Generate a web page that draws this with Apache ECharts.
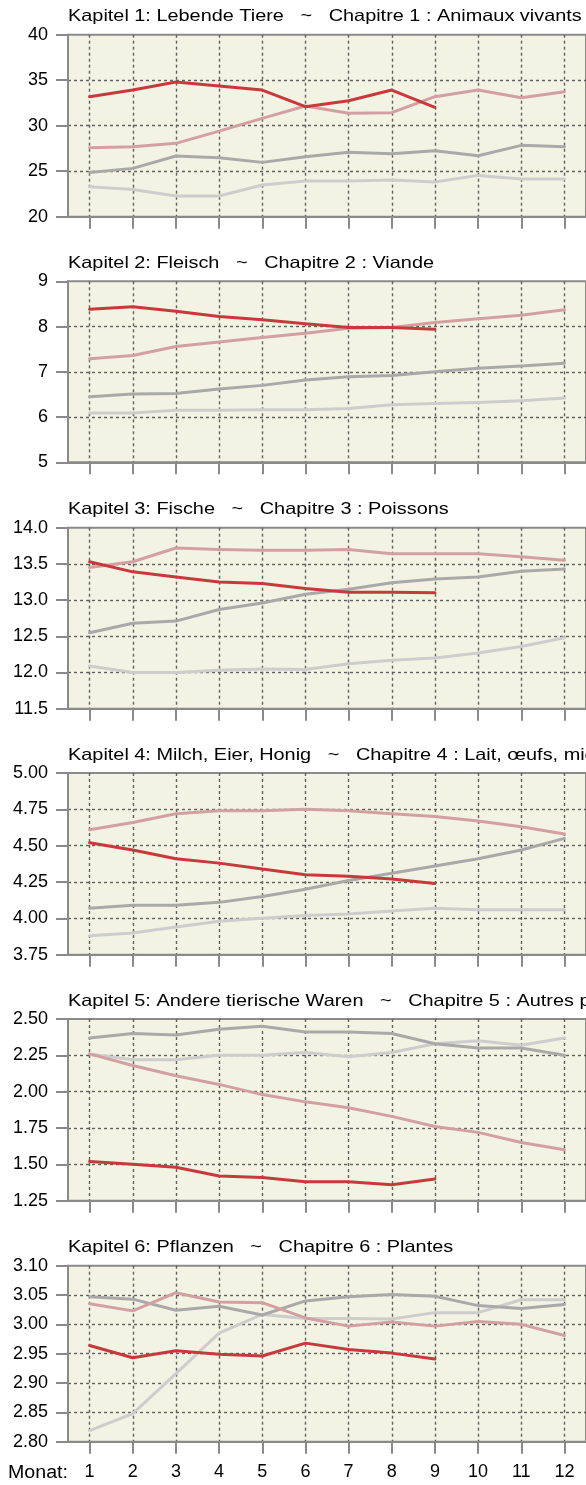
<!DOCTYPE html>
<html><head><meta charset="utf-8">
<script src="https://cdn.jsdelivr.net/npm/echarts@6/dist/echarts.min.js"></script>
<style>html,body{margin:0;padding:0;background:#fff;overflow:hidden}#c{width:586px;height:1485px}</style>
</head><body><div id="c"></div>
<script>
// ---------- data ----------
const months = ['1','2','3','4','5','6','7','8','9','10','11','12'];
const xAxisName = 'Monat:';
const titles = [
  'Kapitel 1: Lebende Tiere   ~   Chapitre 1 : Animaux vivants',
  'Kapitel 2: Fleisch   ~   Chapitre 2 : Viande',
  'Kapitel 3: Fische   ~   Chapitre 3 : Poissons',
  'Kapitel 4: Milch, Eier, Honig   ~   Chapitre 4 : Lait, œufs, miel',
  'Kapitel 5: Andere tierische Waren   ~   Chapitre 5 : Autres produits d\'origine animale',
  'Kapitel 6: Pflanzen   ~   Chapitre 6 : Plantes'
];
const yMin = [20, 5, 11.5, 3.75, 1.25, 2.80];
const yMax = [40, 9, 14, 5, 2.5, 3.10];
const yStep = [5, 1, 0.5, 0.25, 0.25, 0.05];
const yDecimals = [0, 0, 1, 2, 2, 2];

// four years per chapter: year A (lightest), B, C, D (current, red)
const ch1_A = [23.30, 23.00, 22.27, 22.27, 23.48, 23.92, 23.92, 24.03, 23.81, 24.54, 24.14, 24.14];
const ch1_B = [24.87, 25.31, 26.67, 26.48, 25.97, 26.59, 27.07, 26.92, 27.25, 26.70, 27.84, 27.69];
const ch1_C = [27.58, 27.69, 28.06, 29.41, 30.81, 32.16, 31.36, 31.43, 33.19, 33.92, 33.08, 33.74];
const ch1_D = [33.19, 33.92, 34.80, 34.36, 33.92, 32.09, 32.75, 33.92, 32.01];

const ch2_A = [6.09, 6.09, 6.15, 6.15, 6.16, 6.16, 6.19, 6.27, 6.30, 6.32, 6.36, 6.42];
const ch2_B = [6.45, 6.51, 6.52, 6.62, 6.70, 6.82, 6.89, 6.92, 7.00, 7.08, 7.13, 7.19];
const ch2_C = [7.29, 7.36, 7.56, 7.66, 7.76, 7.85, 7.96, 7.98, 8.09, 8.17, 8.25, 8.37];
const ch2_D = [8.38, 8.44, 8.34, 8.22, 8.15, 8.06, 7.98, 7.98, 7.94];

const ch3_A = [12.09, 12.00, 12.00, 12.03, 12.05, 12.04, 12.12, 12.17, 12.20, 12.27, 12.36, 12.48];
const ch3_B = [12.55, 12.68, 12.71, 12.87, 12.96, 13.08, 13.15, 13.24, 13.29, 13.32, 13.40, 13.43];
const ch3_C = [13.45, 13.53, 13.72, 13.70, 13.69, 13.69, 13.70, 13.64, 13.64, 13.64, 13.60, 13.55];
const ch3_D = [13.53, 13.39, 13.32, 13.25, 13.23, 13.16, 13.11, 13.11, 13.10];

const ch4_A = [3.88, 3.90, 3.94, 3.98, 4.00, 4.02, 4.03, 4.05, 4.07, 4.06, 4.06, 4.06];
const ch4_B = [4.07, 4.09, 4.09, 4.11, 4.15, 4.20, 4.26, 4.31, 4.36, 4.41, 4.47, 4.55];
const ch4_C = [4.61, 4.66, 4.72, 4.74, 4.74, 4.75, 4.74, 4.72, 4.70, 4.67, 4.63, 4.58];
const ch4_D = [4.52, 4.47, 4.41, 4.38, 4.34, 4.30, 4.29, 4.27, 4.24];

const ch5_A = [2.26, 2.22, 2.22, 2.25, 2.25, 2.27, 2.24, 2.27, 2.33, 2.35, 2.32, 2.37];
const ch5_B = [2.37, 2.40, 2.39, 2.43, 2.45, 2.41, 2.41, 2.40, 2.33, 2.30, 2.30, 2.25];
const ch5_C = [2.26, 2.18, 2.11, 2.05, 1.98, 1.93, 1.89, 1.83, 1.76, 1.72, 1.65, 1.60];
const ch5_D = [1.52, 1.50, 1.48, 1.42, 1.41, 1.38, 1.38, 1.36, 1.40];

const ch6_A = [2.819, 2.848, 2.916, 2.985, 3.017, 3.010, 3.010, 3.009, 3.020, 3.020, 3.042, 3.042];
const ch6_B = [3.047, 3.043, 3.024, 3.031, 3.016, 3.040, 3.047, 3.051, 3.048, 3.032, 3.027, 3.034];
const ch6_C = [3.035, 3.023, 3.054, 3.038, 3.037, 3.011, 2.997, 3.004, 2.997, 3.005, 3.000, 2.981];
const ch6_D = [2.964, 2.943, 2.955, 2.949, 2.946, 2.968, 2.957, 2.951, 2.941];

const chapters = [
  [ch1_A, ch1_B, ch1_C, ch1_D],
  [ch2_A, ch2_B, ch2_C, ch2_D],
  [ch3_A, ch3_B, ch3_C, ch3_D],
  [ch4_A, ch4_B, ch4_C, ch4_D],
  [ch5_A, ch5_B, ch5_C, ch5_D],
  [ch6_A, ch6_B, ch6_C, ch6_D]
];

// ---------- layout / style ----------
const colors = ['#cdcdcd', '#a9a9a9', '#d3a0a1', '#c8393d'];
const tops = [34.7, 281.3, 527.7, 773, 1019, 1265.7];
const heights = [182, 181, 181, 181.7, 181.7, 176];
const FONT = '"Liberation Sans", Arial, sans-serif';
const axisGrey = '#8a8a8a';
const dotted = { color: '#606060', width: 1.4, type: [3, 3] };

const grids = [], xAxes = [], yAxes = [], series = [], graphics = [];
for (let i = 0; i < 6; i++) {
  grids.push({
    left: 68, width: 521, top: tops[i], height: heights[i],
    show: true, backgroundColor: '#f3f3e3', borderColor: axisGrey, borderWidth: 2
  });
  const last = i === 5;
  xAxes.push({
    type: 'category', gridIndex: i, data: months, boundaryGap: true,
    axisLine: { show: true, lineStyle: { color: axisGrey, width: 2 } },
    axisTick: { show: true, alignWithLabel: true, length: 12, lineStyle: { color: axisGrey, width: 2 } },
    splitLine: { show: true, alignWithLabel: true, interval: 0, lineStyle: dotted },
    axisLabel: { show: last, interval: 0, margin: 21, fontSize: 18, color: '#000', fontFamily: FONT }
  });
  const d = yDecimals[i];
  yAxes.push({
    type: 'value', gridIndex: i, min: yMin[i], max: yMax[i], interval: yStep[i],
    axisLine: { show: true, lineStyle: { color: axisGrey, width: 2 } },
    axisTick: { show: true, length: 12, lineStyle: { color: axisGrey, width: 2 } },
    splitLine: { show: true, showMinLine: false, showMaxLine: false, lineStyle: dotted },
    axisLabel: { margin: 20, fontSize: 18, color: '#000', fontFamily: FONT,
      formatter: v => Number(v).toFixed(d) }
  });
  chapters[i].forEach((vals, k) => {
    series.push({
      type: 'line', xAxisIndex: i, yAxisIndex: i, data: vals,
      symbol: 'none', smooth: false, z: 3 + k,
      lineStyle: { color: colors[k], width: 3, cap: 'round', join: 'round' },
      emphasis: { disabled: true }
    });
  });
  graphics.push({
    type: 'text', x: 68, y: tops[i] - 18, scaleX: 1.205,
    style: { text: titles[i], fontSize: 16.5, fontFamily: FONT, fill: '#000', verticalAlign: 'middle', align: 'left' }
  });
}
graphics.push({
  type: 'text', x: 8, y: tops[5] + heights[5] + 31, scaleX: 1.09,
  style: { text: xAxisName, fontSize: 18, fontFamily: FONT, fill: '#000', verticalAlign: 'middle', align: 'left' }
});

const chart = echarts.init(document.getElementById('c'), null, { renderer: 'canvas' });
chart.setOption({
  animation: false,
  backgroundColor: '#ffffff',
  grid: grids, xAxis: xAxes, yAxis: yAxes, series: series,
  graphic: graphics
});
</script>
</body></html>
